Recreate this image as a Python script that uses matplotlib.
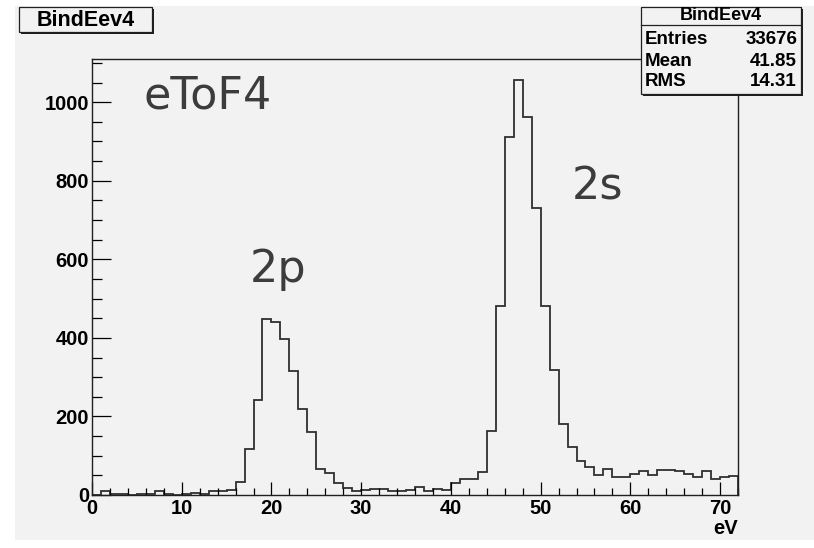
import numpy as np
import matplotlib.pyplot as plt
from matplotlib.patches import Rectangle

# 每个bin宽1 eV, 从0到72
edges = np.arange(0, 73)
counts = [0, 9, 2, 2, 0, 2, 3, 9, 2, 0,
          2, 4, 2, 11, 9, 14, 32, 116, 242, 447,
          441, 397, 316, 218, 160, 66, 55, 31, 17, 11,
          14, 16, 16, 9, 9, 14, 21, 11, 16, 14,
          31, 41, 41, 58, 164, 482, 912, 1057, 963, 730,
          480, 317, 182, 123, 87, 72, 51, 66, 46, 46,
          54, 60, 51, 64, 64, 60, 54, 46, 60, 42,
          46, 48]
hist_name = 'BindEev4'
stat_names = ['Entries', 'Mean', 'RMS']
stat_values = ['33676', '41.85', '14.31']

W, H = 814, 548
bg = '#f2f2f2'
font = ['Liberation Sans', 'DejaVu Sans']

def fx(px):
    return px / W

def fy(py):
    return 1 - py / H

fig = plt.figure(figsize=(W / 100, H / 100), dpi=100, facecolor='white')

# ROOT画布的灰色背景
fig.patches.append(Rectangle((fx(15), fy(540)), fx(W) - fx(15), fy(6) - fy(540),
                             transform=fig.transFigure, facecolor=bg, edgecolor='none', zorder=-5))

ax = fig.add_axes([fx(92), fy(495), fx(738) - fx(92), fy(59) - fy(495)])
ax.set_zorder(1)
ax.set_facecolor(bg)
ax.stairs(counts, edges, color='#303030', linewidth=1.3)
ax.set_xlim(0, 72)
ax.set_ylim(0, 1110)

ax.set_xticks(np.arange(0, 71, 10))
ax.set_xticks(np.arange(0, 73, 2), minor=True)
ax.set_yticks(np.arange(0, 1001, 200))
ax.set_yticks(np.arange(0, 1101, 50), minor=True)
ax.tick_params(axis='x', which='major', direction='in', length=9.4, width=0.9, pad=3)
ax.tick_params(axis='x', which='minor', direction='in', length=4.7, width=0.9)
ax.tick_params(axis='y', which='major', direction='in', length=13.7, width=0.9, pad=2)
ax.tick_params(axis='y', which='minor', direction='in', length=7.2, width=0.9)
for lab in ax.get_xticklabels() + ax.get_yticklabels():
    lab.set_fontfamily(font)
    lab.set_fontweight('bold')
    lab.set_fontsize(14.5)
for s in ax.spines.values():
    s.set_linewidth(1.0)
    s.set_color('#202020')

fig.text(fx(738), fy(528), 'eV', ha='right', va='center', fontsize=14.5,
         fontweight='bold', family=font)

# 图中标注
ax.text(5.7, 1015, 'eToF4', fontsize=32, color='#3c3c3c', va='center', family='DejaVu Sans')
ax.text(17.6, 575, '2p', fontsize=32, color='#3c3c3c', va='center', family='DejaVu Sans')
ax.text(53.5, 785, '2s', fontsize=32, color='#3c3c3c', va='center', family='DejaVu Sans')

def box(x0, y0, x1, y1):
    # 带阴影的方框
    fig.patches.append(Rectangle((fx(x0 + 2), fy(y1 + 2)), fx(x1) - fx(x0), fy(y0) - fy(y1),
                                 transform=fig.transFigure, facecolor='#202020',
                                 edgecolor='none', zorder=5))
    fig.patches.append(Rectangle((fx(x0), fy(y1)), fx(x1) - fx(x0), fy(y0) - fy(y1),
                                 transform=fig.transFigure, facecolor=bg,
                                 edgecolor='#202020', linewidth=0.9, zorder=6))

# 左上角标题框
box(19, 7, 152, 32)
fig.text(fx(85.5), fy(20), hist_name, ha='center', va='center', fontsize=15.5,
         fontweight='bold', family=font, zorder=7)

# 统计框
box(641, 7, 801, 94)
fig.add_artist(plt.Line2D([fx(641), fx(801)], [fy(25), fy(25)], transform=fig.transFigure,
                          color='#202020', linewidth=0.9, zorder=7))
fig.text(fx(721), fy(16), hist_name, ha='center', va='center', fontsize=13,
         fontweight='bold', family=font, zorder=7)
for i, (n, v) in enumerate(zip(stat_names, stat_values)):
    y = 40 + 21 * i
    fig.text(fx(645), fy(y), n, ha='left', va='center', fontsize=13.5,
             fontweight='bold', family=font, zorder=7)
    fig.text(fx(797), fy(y), v, ha='right', va='center', fontsize=13.5,
             fontweight='bold', family=font, zorder=7)

fig.savefig('out.png', dpi=100, facecolor='white')
